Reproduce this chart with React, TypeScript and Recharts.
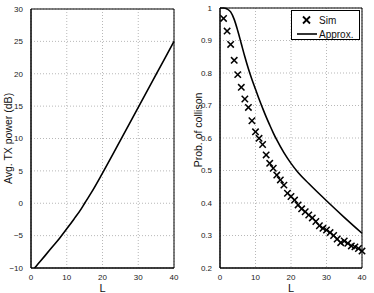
import {
  LineChart,
  ComposedChart,
  Line,
  Scatter,
  XAxis,
  YAxis,
  CartesianGrid,
  ReferenceArea,
} from "recharts";

// left panel: average TX power vs L
const powerL = [1, 2, 4, 6, 8, 10, 12, 14, 15, 17, 20, 25, 30, 35, 40];
const powerDb = [-10, -9.35, -8.05, -6.72, -5.4, -3.95, -2.46, -0.9, 0, 1.75, 4.65, 9.7, 14.8, 19.9, 25];

// right panel: collision probability
const simL = Array.from({ length: 40 }, (_, i) => i + 1);
const simP = [
  0.968, 0.929, 0.888, 0.839, 0.795, 0.756, 0.72, 0.694, 0.653, 0.619,
  0.599, 0.58, 0.548, 0.522, 0.507, 0.486, 0.471, 0.455, 0.43, 0.42,
  0.409, 0.394, 0.382, 0.373, 0.363, 0.354, 0.343, 0.33, 0.322, 0.317,
  0.309, 0.3, 0.289, 0.278, 0.283, 0.276, 0.268, 0.265, 0.26, 0.252,
];
const approxL = [0, 1, 2, 3, 4, 5, 6, 7, 8, 9, 10, 11, 12, 13, 14, 15, 16, 18, 20, 22, 25, 30, 35, 40];
const approxP = [
  1, 1, 0.997, 0.988, 0.965, 0.93, 0.89, 0.85, 0.813, 0.78, 0.75, 0.72,
  0.692, 0.665, 0.64, 0.616, 0.594, 0.555, 0.522, 0.494, 0.46, 0.407, 0.356, 0.307,
];

const xTicks = [0, 10, 20, 30, 40];
const powerTicks = [-10, -5, 0, 5, 10, 15, 20, 25, 30];
const probTicks = [0.2, 0.3, 0.4, 0.5, 0.6, 0.7, 0.8, 0.9, 1];

const powerData = powerL.map((l, i) => ({ L: l, p: powerDb[i] }));
const simData = simL.map((l, i) => ({ L: l, sim: simP[i] }));
const approxData = approxL.map((l, i) => ({ L: l, approx: approxP[i] }));

const font = "'Liberation Sans', Arial, sans-serif";
const tickStyle = { fontSize: 8, fill: "#222", fontFamily: font };

const fmtTick = (v: number) => (v < 0 ? "\u2212" + Math.abs(v) : String(v));

const yLabel = (text: string, x: number, dy: number) => (props: any) => {
  const vb = props.viewBox;
  const cy = vb.y + vb.height / 2 + dy;
  return (
    <text
      x={x}
      y={cy}
      transform={`rotate(-90 ${x} ${cy})`}
      textAnchor="middle"
      dominantBaseline="central"
      fontSize={10.5}
      fontFamily={font}
      fill="#111"
    >
      {text}
    </text>
  );
};

const xLabel = (props: any) => {
  const vb = props.viewBox;
  return (
    <text
      x={vb.x + vb.width / 2}
      y={287.5}
      textAnchor="middle"
      dominantBaseline="central"
      fontSize={11}
      fontFamily={font}
      fill="#111"
    >
      L
    </text>
  );
};

const Cross = (props: any) => {
  const { cx, cy } = props;
  const s = 3.2;
  return (
    <g stroke="#000" strokeWidth={1.5}>
      <line x1={cx - s} y1={cy - s} x2={cx + s} y2={cy + s} />
      <line x1={cx - s} y1={cy + s} x2={cx + s} y2={cy - s} />
    </g>
  );
};

function LegendBox() {
  return (
    <div
      style={{
        position: "absolute",
        left: 291,
        top: 10,
        width: 67,
        height: 28,
        border: "1px solid #000",
        background: "#fff",
      }}
    >
      <svg width={67} height={28} style={{ position: "absolute", left: 0, top: 0 }}>
        <g stroke="#000" strokeWidth={1.8}>
          <line x1={11} y1={5.5} x2={18} y2={12.5} />
          <line x1={11} y1={12.5} x2={18} y2={5.5} />
        </g>
        <line x1={5} y1={23} x2={25} y2={23} stroke="#000" strokeWidth={1.6} />
        <text x={27} y={9} dominantBaseline="central" fontSize={10} fontFamily={font} fill="#111">
          Sim
        </text>
        <text x={27} y={23} dominantBaseline="central" fontSize={10} fontFamily={font} fill="#111">
          Approx.
        </text>
      </svg>
    </div>
  );
}

export default function App() {
  return (
    <div style={{ position: "absolute", left: 0, top: 0, width: 374, height: 293, background: "#fff" }}>
      <div style={{ position: "absolute", left: 0, top: 0 }}>
        <LineChart width={185} height={293} data={powerData} margin={{ top: 9, right: 11, bottom: 0, left: 0 }}>
          <CartesianGrid stroke="#999" strokeDasharray="1 2" strokeWidth={0.7} />
          <XAxis
            dataKey="L"
            type="number"
            domain={[0, 40]}
            ticks={xTicks}
            height={25}
            tick={tickStyle}
            tickLine={false}
            tickMargin={0}
            axisLine={{ stroke: "#000" }}
            label={xLabel}
          />
          <YAxis
            type="number"
            domain={[-10, 30]}
            ticks={powerTicks}
            width={31}
            tick={tickStyle}
            tickLine={false}
            tickMargin={2}
            tickFormatter={fmtTick}
            axisLine={{ stroke: "#000" }}
            label={yLabel("Avg. TX power (dB)", 8, 0)}
          />
          <ReferenceArea x1={0} x2={40} y1={-10} y2={30} fill="none" stroke="#000" strokeWidth={1} />
          <Line
            dataKey="p"
            type="monotone"
            stroke="#000"
            strokeWidth={1.6}
            dot={false}
            isAnimationActive={false}
          />
        </LineChart>
      </div>
      <div style={{ position: "absolute", left: 187, top: 0 }}>
        <ComposedChart width={187} height={293} margin={{ top: 8, right: 12, bottom: 0, left: 0 }}>
          <CartesianGrid stroke="#999" strokeDasharray="1 2" strokeWidth={0.7} />
          <XAxis
            dataKey="L"
            type="number"
            domain={[0, 40]}
            ticks={xTicks}
            height={25}
            tick={tickStyle}
            tickLine={false}
            tickMargin={0}
            axisLine={{ stroke: "#000" }}
            allowDuplicatedCategory={false}
            label={xLabel}
          />
          <YAxis
            type="number"
            domain={[0.2, 1]}
            ticks={probTicks}
            width={33}
            tick={tickStyle}
            tickLine={false}
            tickMargin={2}
            axisLine={{ stroke: "#000" }}
            label={yLabel("Prob. of collison", 11, -8)}
          />
          <ReferenceArea x1={0} x2={40} y1={0.2} y2={1} fill="none" stroke="#000" strokeWidth={1} />
          <Line
            data={approxData}
            dataKey="approx"
            type="monotone"
            stroke="#000"
            strokeWidth={1.6}
            dot={false}
            isAnimationActive={false}
          />
          <Scatter data={simData} dataKey="sim" shape={Cross} isAnimationActive={false} />
        </ComposedChart>
      </div>
      <LegendBox />
    </div>
  );
}
